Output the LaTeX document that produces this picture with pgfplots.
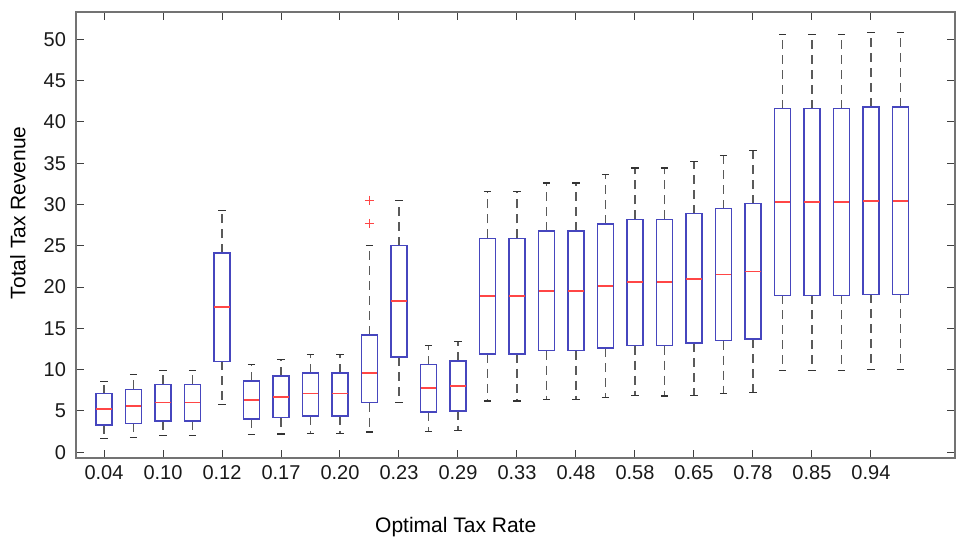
\documentclass[border=0pt]{standalone}
\usepackage{fontspec}
\setmainfont{Liberation Sans}
\usepackage{pgfplots}
\pgfplotsset{compat=1.18}
\usepgfplotslibrary{statistics}
\definecolor{boxblue}{RGB}{70,70,190}
\definecolor{medred}{RGB}{255,70,70}
\definecolor{whisk}{RGB}{90,90,90}
\begin{document}
\begin{tikzpicture}
\begin{axis}[
  scale only axis, width=439.5pt, height=223pt,
  xmin=0.05, xmax=29.85, ymin=-0.7, ymax=53.3,
  xtick={1,3,...,27},
  xticklabels={0.04,0.10,0.12,0.17,0.20,0.23,0.29,0.33,0.48,0.58,0.65,0.78,0.85,0.94},
  ytick={0,5,...,50},
  xtick pos=both, ytick pos=both, ticklabel pos=left,
  tick align=inside, major tick length=4pt,
  axis line style={black!55, line width=0.75pt},
  tick style={black!75, line width=0.5pt},
  /pgf/number format/assume math mode=true,
  ticklabel style={font=\fontsize{10}{12}\selectfont, text=black!90},
  yticklabel style={xshift=-1.5pt},
  every axis x label/.style={at={(axis description cs:0.432,0)}, yshift=-34.5pt, anchor=center, font=\fontsize{10.5}{12}\selectfont},
  every axis y label/.style={at={(axis description cs:-0.066,0.55)}, rotate=90, anchor=center, font=\fontsize{10.5}{12}\selectfont},
  xlabel={Optimal Tax Rate}, ylabel={Total Tax Revenue},
  boxplot/draw direction=y,
  boxplot/box extend=0.53, boxplot/whisker extend=0.25,
  boxplot/every box/.style={draw=boxblue, line width=0.75pt},
  boxplot/every median/.style={draw=medred, line width=0.75pt},
  boxplot/draw/lower whisker/.code={%
    \draw[whisk, line width=0.6pt, dash pattern=on 4.5pt off 3pt]
      (boxplot box cs:\pgfplotsboxplotvalue{lower quartile},0.5) --
      (boxplot box cs:\pgfplotsboxplotvalue{lower whisker},0.5);
    \draw[black!80, line width=0.6pt]
      (boxplot whisker cs:\pgfplotsboxplotvalue{lower whisker},0) --
      (boxplot whisker cs:\pgfplotsboxplotvalue{lower whisker},1);
  },
  boxplot/draw/upper whisker/.code={%
    \draw[whisk, line width=0.6pt, dash pattern=on 4.5pt off 3pt]
      (boxplot box cs:\pgfplotsboxplotvalue{upper quartile},0.5) --
      (boxplot box cs:\pgfplotsboxplotvalue{upper whisker},0.5);
    \draw[black!80, line width=0.6pt]
      (boxplot whisker cs:\pgfplotsboxplotvalue{upper whisker},0) --
      (boxplot whisker cs:\pgfplotsboxplotvalue{upper whisker},1);
  },
]
\addplot[boxplot prepared={draw position=1, lower whisker=1.7, lower quartile=3.3, median=5.2, upper quartile=7.1, upper whisker=8.6}] coordinates {};
\addplot[boxplot prepared={draw position=2, lower whisker=1.8, lower quartile=3.5, median=5.6, upper quartile=7.6, upper whisker=9.4}] coordinates {};
\addplot[boxplot prepared={draw position=3, lower whisker=2.0, lower quartile=3.8, median=6.0, upper quartile=8.2, upper whisker=9.9}] coordinates {};
\addplot[boxplot prepared={draw position=4, lower whisker=2.0, lower quartile=3.8, median=6.0, upper quartile=8.2, upper whisker=9.9}] coordinates {};
\addplot[boxplot prepared={draw position=5, lower whisker=5.8, lower quartile=11.0, median=17.6, upper quartile=24.1, upper whisker=29.3}] coordinates {};
\addplot[boxplot prepared={draw position=6, lower whisker=2.1, lower quartile=4.0, median=6.3, upper quartile=8.6, upper whisker=10.6}] coordinates {};
\addplot[boxplot prepared={draw position=7, lower whisker=2.2, lower quartile=4.2, median=6.7, upper quartile=9.2, upper whisker=11.2}] coordinates {};
\addplot[boxplot prepared={draw position=8, lower whisker=2.3, lower quartile=4.4, median=7.1, upper quartile=9.6, upper whisker=11.8}] coordinates {};
\addplot[boxplot prepared={draw position=9, lower whisker=2.3, lower quartile=4.4, median=7.1, upper quartile=9.6, upper whisker=11.8}] coordinates {};
\addplot[medred, boxplot prepared={draw position=10, lower whisker=2.45, lower quartile=6.0, median=9.6, upper quartile=14.2, upper whisker=25.0}, mark=+, mark size=2.3pt, mark options={draw=medred, solid, line width=0.6pt}] table[row sep=\\, y index=0] {data\\ 27.7\\ 30.5\\};
\addplot[boxplot prepared={draw position=11, lower whisker=6.0, lower quartile=11.5, median=18.3, upper quartile=25.0, upper whisker=30.5}] coordinates {};
\addplot[boxplot prepared={draw position=12, lower whisker=2.5, lower quartile=4.85, median=7.75, upper quartile=10.6, upper whisker=12.9}] coordinates {};
\addplot[boxplot prepared={draw position=13, lower whisker=2.65, lower quartile=5.0, median=8.0, upper quartile=11.05, upper whisker=13.4}] coordinates {};
\addplot[boxplot prepared={draw position=14, lower whisker=6.2, lower quartile=11.9, median=18.9, upper quartile=25.9, upper whisker=31.6}] coordinates {};
\addplot[boxplot prepared={draw position=15, lower whisker=6.2, lower quartile=11.9, median=18.9, upper quartile=25.9, upper whisker=31.6}] coordinates {};
\addplot[boxplot prepared={draw position=16, lower whisker=6.4, lower quartile=12.3, median=19.5, upper quartile=26.8, upper whisker=32.6}] coordinates {};
\addplot[boxplot prepared={draw position=17, lower whisker=6.4, lower quartile=12.3, median=19.5, upper quartile=26.8, upper whisker=32.6}] coordinates {};
\addplot[boxplot prepared={draw position=18, lower whisker=6.6, lower quartile=12.6, median=20.1, upper quartile=27.6, upper whisker=33.6}] coordinates {};
\addplot[boxplot prepared={draw position=19, lower whisker=6.9, lower quartile=12.9, median=20.6, upper quartile=28.2, upper whisker=34.4}] coordinates {};
\addplot[boxplot prepared={draw position=20, lower whisker=6.8, lower quartile=12.9, median=20.6, upper quartile=28.2, upper whisker=34.4}] coordinates {};
\addplot[boxplot prepared={draw position=21, lower whisker=6.9, lower quartile=13.2, median=21.0, upper quartile=28.9, upper whisker=35.2}] coordinates {};
\addplot[boxplot prepared={draw position=22, lower whisker=7.1, lower quartile=13.5, median=21.5, upper quartile=29.5, upper whisker=35.9}] coordinates {};
\addplot[boxplot prepared={draw position=23, lower whisker=7.2, lower quartile=13.7, median=21.9, upper quartile=30.1, upper whisker=36.5}] coordinates {};
\addplot[boxplot prepared={draw position=24, lower whisker=9.9, lower quartile=19.0, median=30.3, upper quartile=41.6, upper whisker=50.6}] coordinates {};
\addplot[boxplot prepared={draw position=25, lower whisker=9.9, lower quartile=19.0, median=30.3, upper quartile=41.6, upper whisker=50.6}] coordinates {};
\addplot[boxplot prepared={draw position=26, lower whisker=9.9, lower quartile=19.0, median=30.3, upper quartile=41.6, upper whisker=50.6}] coordinates {};
\addplot[boxplot prepared={draw position=27, lower whisker=10.0, lower quartile=19.1, median=30.4, upper quartile=41.8, upper whisker=50.8}] coordinates {};
\addplot[boxplot prepared={draw position=28, lower whisker=10.0, lower quartile=19.1, median=30.4, upper quartile=41.8, upper whisker=50.8}] coordinates {};
\end{axis}
\path ([xshift=-38pt,yshift=-41pt]current axis.south west) rectangle ([xshift=0.5pt,yshift=6pt]current axis.north east);
\end{tikzpicture}
\end{document}
